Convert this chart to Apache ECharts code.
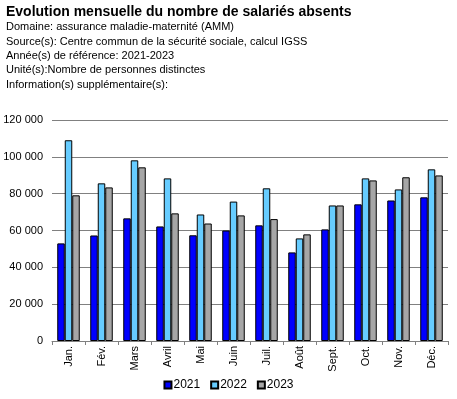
<!DOCTYPE html>
<html>
<head>
<meta charset="utf-8">
<script src="https://cdn.jsdelivr.net/npm/echarts@6/dist/echarts.min.js"></script>
<style>
  html, body { margin: 0; padding: 0; background: #fff; }
  #chart { width: 457px; height: 399px; }
</style>
</head>
<body>
<div id="chart"></div>
<script>
// Data
const months = ['Jan.', 'Fév.', 'Mars', 'Avril', 'Mai', 'Juin', 'Juil.', 'Août', 'Sept.', 'Oct.', 'Nov.', 'Déc.'];
const values2021 = [53000, 57300, 66600, 62200, 57400, 60000, 62800, 48100, 60600, 74200, 76300, 78000];
const values2022 = [109000, 85600, 98100, 88300, 68700, 75700, 82900, 55700, 73600, 88300, 82300, 93200];
const values2023 = [79100, 83400, 94300, 69300, 63800, 68200, 66200, 57900, 73600, 87200, 88900, 89900];
const yTicks = [0, 20000, 40000, 60000, 80000, 100000, 120000];

const infoLines = [
  'Domaine: assurance maladie-maternité (AMM)',
  'Source(s): Centre commun de la sécurité sociale, calcul IGSS',
  'Année(s) de référence: 2021-2023',
  'Unité(s):Nombre de personnes distinctes',
  'Information(s) supplémentaire(s):',
];

const FONT = '"Liberation Sans", Arial, sans-serif';

const chart = echarts.init(document.getElementById('chart'));

const makeSeries = (name, data, color) => ({
  name,
  type: 'bar',
  data,
  barWidth: 7.5,
  barGap: '0%',
  itemStyle: { color, borderColor: '#000', borderWidth: 1 },
  animation: false,
});

chart.setOption({
  backgroundColor: '#fff',
  title: [
    {
      text: 'Evolution mensuelle du nombre de salariés absents',
      left: 6,
      top: 5,
      padding: 0,
      textStyle: { fontFamily: FONT, fontSize: 14, fontWeight: 'bold', color: '#000' },
    },
    {
      text: infoLines.join('\n'),
      left: 6,
      top: 20,
      padding: 0,
      textStyle: { fontFamily: FONT, fontSize: 11, fontWeight: 'normal', color: '#000', lineHeight: 14.4 },
    },
  ],
  legend: {
    data: ['2021', '2022', '2023'],
    bottom: 3,
    left: 'center',
    icon: 'rect',
    itemWidth: 7,
    itemHeight: 7,
    itemGap: 10,
    selectedMode: false,
    textStyle: { fontFamily: FONT, fontSize: 12, color: '#000', padding: [0, 0, 0, -3] },
  },
  grid: { left: 52, right: 9, top: 120, bottom: 58 },
  xAxis: {
    type: 'category',
    data: months,
    axisLine: { show: true, lineStyle: { color: '#808080', width: 1 } },
    axisTick: { show: true, length: 4, lineStyle: { color: '#808080' } },
    axisLabel: { rotate: 90, margin: 5, fontFamily: FONT, fontSize: 11, color: '#000' },
  },
  yAxis: {
    type: 'value',
    min: yTicks[0],
    max: yTicks[yTicks.length - 1],
    interval: 20000,
    axisLine: { show: false },
    axisTick: { show: false },
    axisLabel: {
      margin: 9,
      fontFamily: FONT,
      fontSize: 11,
      color: '#000',
      formatter: (v) => String(v).replace(/\B(?=(\d{3})+(?!\d))/g, ' '),
    },
    splitLine: { show: true, lineStyle: { color: '#808080', width: 1 } },
  },
  series: [
    makeSeries('2021', values2021, '#0000FF'),
    makeSeries('2022', values2022, '#66CCFF'),
    makeSeries('2023', values2023, '#A6A6A6'),
  ],
});
</script>
</body>
</html>
